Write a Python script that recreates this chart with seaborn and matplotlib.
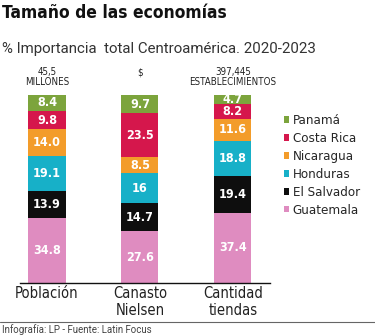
import numpy as np
import pandas as pd
import matplotlib
matplotlib.use("Agg")
import matplotlib.pyplot as plt
from matplotlib.font_manager import FontProperties
import seaborn as sns

# Shares of Central America's total (%), stacked bottom -> top
metrics = ["Población", "Canasto\nNielsen", "Cantidad\ntiendas"]
header_labels = ["45,5\nMILLONES", "$", "397,445\nESTABLECIMIENTOS"]
countries = ["Guatemala", "El Salvador", "Honduras", "Nicaragua", "Costa Rica", "Panamá"]
guatemala = [34.8, 27.6, 37.4]
el_salvador = [13.9, 14.7, 19.4]
honduras = [19.1, 16, 18.8]
nicaragua = [14.0, 8.5, 11.6]
costa_rica = [9.8, 23.5, 8.2]
panama = [8.4, 9.7, 4.7]
value_labels = [
    ["34.8", "27.6", "37.4"],
    ["13.9", "14.7", "19.4"],
    ["19.1", "16", "18.8"],
    ["14.0", "8.5", "11.6"],
    ["9.8", "23.5", "8.2"],
    ["8.4", "9.7", "4.7"],
]
palette = {
    "Guatemala": "#DF8CC0",
    "El Salvador": "#0E0E0E",
    "Honduras": "#17B0C8",
    "Nicaragua": "#F39C2A",
    "Costa Rica": "#D5174C",
    "Panamá": "#7CA43C",
}

series = [guatemala, el_salvador, honduras, nicaragua, costa_rica, panama]
vals = np.array(series, dtype=float)
cum = np.cumsum(vals, axis=0)

rows = []
for ci, c in enumerate(countries):
    for mi, m in enumerate(metrics):
        rows.append({"metric": m, "country": c, "value": vals[ci, mi], "top": cum[ci, mi]})
df = pd.DataFrame(rows)

sns.set_theme(style="white")
plt.rcParams["font.family"] = ["DejaVu Sans"]


def cond(size, weight="normal"):
    return FontProperties(family="DejaVu Sans", stretch="condensed", size=size, weight=weight)


fig = plt.figure(figsize=(3.75, 3.36), dpi=100)
W, H = 375, 336
ax = fig.add_axes([20 / W, (H - 283) / H, 250 / W, 188 / H])

# Draw cumulative totals from the top segment down so each lower segment overlays the previous
hue_order = countries[::-1]
sns.barplot(data=df, x="metric", y="top", hue="country", hue_order=hue_order,
            order=metrics, palette=palette, dodge=False, width=0.40,
            saturation=1, linewidth=0, ax=ax)

for ci in range(len(countries)):
    for mi in range(len(metrics)):
        y = cum[ci, mi] - vals[ci, mi] / 2
        ax.text(mi, y, value_labels[ci][mi], ha="center", va="center",
                color="white", fontproperties=cond(9, "bold"))

for mi, lab in enumerate(header_labels):
    ax.annotate(lab, xy=(mi, 100), xytext=(0, 20), textcoords="offset points",
                ha="center", va="top", color="#222222", linespacing=0.95,
                fontproperties=cond(7), annotation_clip=False)

ax.set_xlim(-0.29, 2.4)
ax.set_ylim(0, 100)
ax.set_xlabel("")
ax.set_ylabel("")
ax.set_yticks([])
ax.tick_params(axis="x", length=0, pad=2, labelcolor="#222222")
for lbl in ax.get_xticklabels():
    lbl.set_fontproperties(cond(10.5))
    lbl.set_linespacing(1.15)
for s in ["top", "right", "left"]:
    ax.spines[s].set_visible(False)
ax.spines["bottom"].set_color("#111111")
ax.spines["bottom"].set_linewidth(1.0)

handles, labels = ax.get_legend_handles_labels()
ax.legend(handles, labels, loc="upper left", bbox_to_anchor=(1.035, 0.925),
          frameon=False, handlelength=0.4, handleheight=0.4,
          handletextpad=0.25, labelspacing=0.37, borderaxespad=0,
          prop=cond(9.5))

fig.text(2 / W, 1 - 18 / H, "Tamaño de las economías", color="#111111",
         fontproperties=cond(12.5, "bold"), va="baseline")
fig.text(2 / W, 1 - 53 / H, "% Importancia  total Centroamérica. 2020-2023",
         fontsize=10.8, color="#333333", family=["Roboto", "DejaVu Sans"],
         fontweight="normal", va="baseline")

fig.add_artist(plt.Line2D([0, 1], [1 - 322 / H, 1 - 322 / H], color="#666666",
                          linewidth=0.8, transform=fig.transFigure))
fig.text(2 / W, 1 - 333 / H, "Infografía: LP - Fuente: Latin Focus",
         fontsize=7, color="#444444", family=["Roboto", "DejaVu Sans"],
         va="baseline")

fig.savefig("out.png", dpi=100, facecolor="white")
